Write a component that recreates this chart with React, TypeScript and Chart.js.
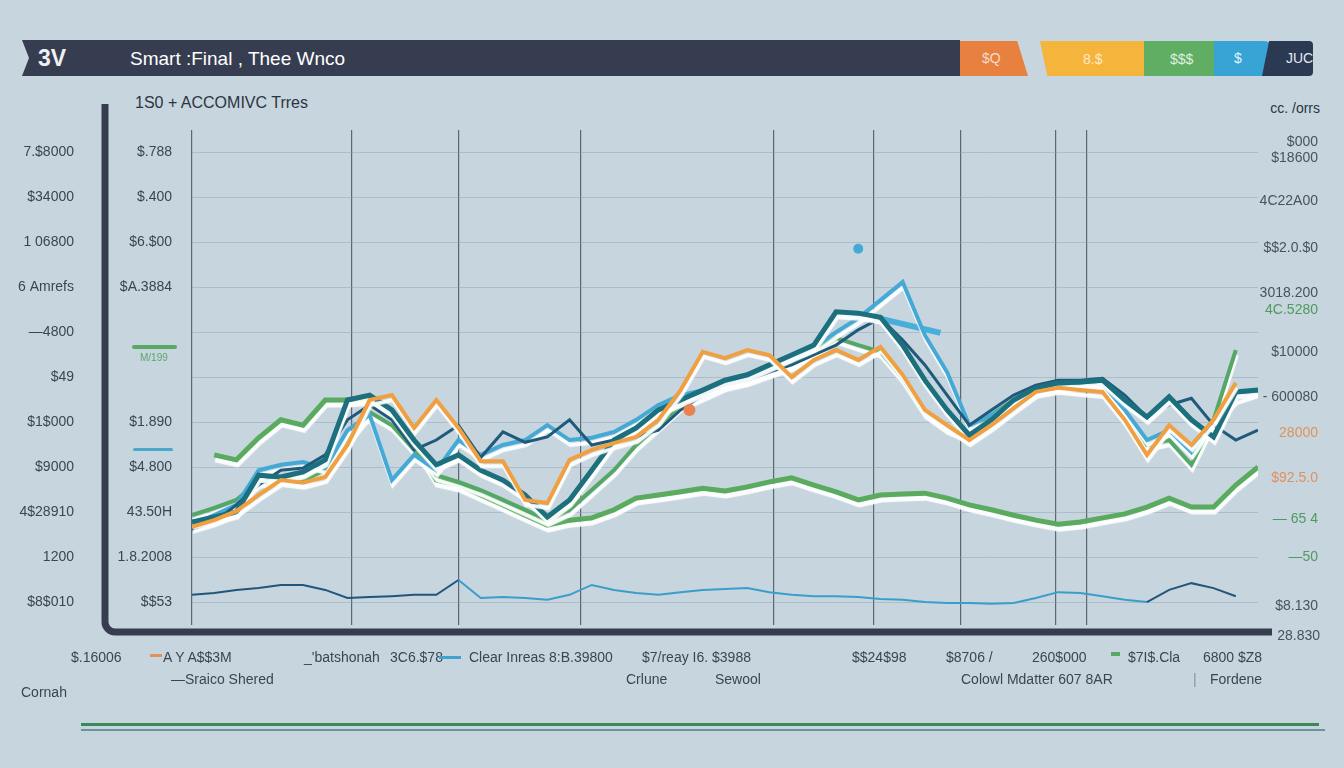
import { useEffect, useRef } from 'react';
import { Chart, registerables } from 'chart.js';

Chart.register(...registerables);

// dark vertical rules, in step units along the x axis
const ruleSteps = [0, 7.2, 12, 17.5, 26.2, 30.7, 34.6, 38.9, 40.3];

// gridline levels shared by the left axes
const levels = [0, 10, 20, 30, 40, 50, 60, 70, 80, 90, 100];

const outerLabels = ['$8$010', '1200', '4$28910', '$9000', '$1$000', '$49', '—4800', '6 Amrefs', '1 06800', '$34000', '7.$8000'];
const innerLabels = ['$$53', '1.8.2008', '43.50H', '$4.800', '$1.890', '', '', '$A.3884', '$6.$00', '$.400', '$.788'];

const rightTicks = [-0.8, 10.1, 18.6, 27.7, 37.7, 45.7, 55.7, 65, 68.8, 78.8, 89.2, 98.8, 102.3];
const rightLabels = ['$8.130', '—50', '— 65 4', '$92.5.0', '28000', '- 600080', '$10000', '4C.5280', '3018.200', '$$2.0.$0', '4C22A00', '$18600', '$000'];
const rightColors = ['#4a525e', '#4f9a62', '#4f9a62', '#e0925a', '#e0925a', '#4a525e', '#4a525e', '#4f9a62', '#4a525e', '#4a525e', '#4a525e', '#4a525e', '#4a525e'];

const orangeSeries = [16.8, 18.3, 20.3, 23.9, 27.2, 26.6, 27.9, 35, 45, 46.1, 38.8, 45, 38.8, 31.4, 31.4, 22.8, 22.1, 31.7, 33.9, 35.4, 36.8, 40.6, 47.2, 55.7, 54.3, 56.1, 55, 50.1, 53.9, 56.1, 53.9, 56.8, 50.6, 42.8, 39.4, 36.1, 39.4, 43.2, 46.8, 47.7, 47.2, 46.8, 40.6, 32.8, 39.4, 35, 40.6, 48.8, null];
const tealSeries = [17.9, 19, 20.1, 28.3, 27.9, 29, 31.7, 45, 46.1, 42.8, 36.1, 30.6, 32.8, 29.4, 27.2, 23.9, 19, 22.8, 29.4, 36.1, 38.8, 42.8, 45, 47.2, 49.4, 50.6, 52.8, 55, 57.2, 64.6, 64.3, 63.4, 57.2, 49.4, 42.8, 37.2, 40.6, 45, 47.7, 48.8, 49, 49.4, 45, 41.2, 45.7, 40.6, 36.8, 46.8, 47.2];
const navySeries = [16.1, 17.9, 21.7, 26.1, 29.4, 29.9, 32.8, 40.6, 43.9, 40.6, 33.9, 36.1, 39.4, 32.2, 37.9, 35.6, 36.8, 40.6, 35, 36.1, 36.8, 38.3, 42.8, 46.1, 48.3, 49.4, 51.2, 52.8, 55, 57.2, 60.6, 63.2, 58.3, 52.8, 46.1, 39.4, 42.8, 46.1, 48.3, 49.4, 49.4, 49.8, 46.1, 41.2, 43.9, 45.4, 39.4, 36.1, 38.3];
const blueSeries = [17.2, 19.4, 21.7, 29.4, 30.6, 31.2, 29.9, 38.3, 41.7, 27.2, 32.8, 29.4, 36.1, 32.8, 35, 36.1, 39.4, 36.1, 36.6, 37.9, 40.6, 43.9, 46.1, 47.2, 49, 49.9, 51.7, 53.4, 56.6, 60.1, 63.2, 67.2, 71.2, 59.4, 51.2, 39.4, 41.7, 44.6, 47.2, 48.1, 48.6, 48.6, 42.8, 36.1, 38.3, 33.4, 40.6, 45.4, 47];
const greenLowSeries = [null, 32.8, 31.7, 36.6, 40.6, 39.4, 45, 45, 45.4, 42.1, 35, 27.2, 26.1, 23.9, 21.7, 19.4, 17.2, 18.3, 18.8, 20.6, 23.2, 23.9, 24.6, 25.4, 24.8, 25.7, 26.8, 27.7, 26.1, 24.6, 22.8, 23.9, 24.1, 24.3, 23.2, 21.7, 20.6, 19.4, 18.3, 17.4, 17.9, 18.8, 19.7, 21.2, 23.2, 21.2, 21.2, 26.1, 30.1];
const greenHighSeries = [19.4, 21, 22.8, 26.8, 27.7, 27.2, 29.4, 36.1, 42.3, 39.4, 33.9, 28.3, 26.8, 25, 22.8, 20.6, 18.3, 20.6, 25, 29.4, 35, 39.4, 43.9, 46.1, 48.3, 49.4, 51.2, 52.8, 55.7, 58.8, 57.2, 55.7, 49.9, 42.3, 38.8, 36.8, 41.7, 45, 47.7, 48.3, 48.8, 48.3, 42.8, 35, 36.1, 30.6, 40.6, 56.1, null];
const baseSeries = [1.7, 2.1, 2.8, 3.2, 3.9, 3.9, 2.8, 1, 1.2, 1.4, 1.7, 1.7, 5, 1, 1.2, 1, 0.6, 1.7, 3.9, 2.8, 2.1, 1.7, 2.3, 2.8, 3, 3.2, 2.3, 1.7, 1.4, 1.4, 1.2, 0.8, 0.6, 0.1, -0.1, -0.1, -0.3, -0.1, 1, 2.3, 2.1, 1.4, 0.6, 0.1, 2.8, 4.3, 3.2, 1.4, null];

const blueAccent = [{ x: 30.7, y: 63.4 }, { x: 33.7, y: 59.9 }];
const blueDot = [{ x: 30, y: 78.6 }];
const orangeDot = [{ x: 22.4, y: 42.8 }];

const steps = orangeSeries.map((_, i) => i);

const FONT = '"Liberation Sans Narrow", "Liberation Sans", Arial, sans-serif';

// white under-glow beneath the main lines
const glowPlugin = {
    id: 'glow',
    beforeDatasetDraw(chart: any, args: any) {
        const ds = chart.data.datasets[args.index];
        if (!ds.glow) return;
        const ctx = chart.ctx;
        ctx.save();
        ctx.shadowColor = 'rgba(255,255,255,0.95)';
        ctx.shadowOffsetX = 1;
        ctx.shadowOffsetY = 5;
        ctx.shadowBlur = 1;
    },
    afterDatasetDraw(chart: any, args: any) {
        const ds = chart.data.datasets[args.index];
        if (ds.glow) chart.ctx.restore();
    }
};

// the dark L-shaped frame around the plot
const framePlugin = {
    id: 'frame',
    afterDraw(chart: any) {
        const { ctx, chartArea } = chart;
        const x = chart.scales.yOuter.right;
        const bottom = chartArea.bottom + 7;
        ctx.save();
        ctx.strokeStyle = '#363d4e';
        ctx.lineWidth = 7;
        ctx.lineCap = 'butt';
        ctx.beginPath();
        ctx.moveTo(x, chartArea.top - 26);
        ctx.lineTo(x, bottom - 10);
        ctx.arcTo(x, bottom, x + 10, bottom, 10);
        ctx.lineTo(chartArea.right + 14, bottom);
        ctx.stroke();
        ctx.restore();
    }
};

const lineBase = {
    pointRadius: 0,
    tension: 0,
    borderJoinStyle: 'miter' as const,
    spanGaps: false,
};

function Text({ x, y, children, size = 14, color = '#3d4552', right = false, weight = 400 }: any) {
    return (
        <div
            style={{
                position: 'absolute',
                top: y,
                left: right ? undefined : x,
                right: right ? 1344 - x : undefined,
                fontSize: size,
                color,
                fontWeight: weight,
                whiteSpace: 'nowrap',
                lineHeight: 1,
                transform: 'translateY(-50%)',
            }}
        >
            {children}
        </div>
    );
}

export default function App() {
    const chartRef = useRef<HTMLCanvasElement>(null);
    const chartInstance = useRef<Chart | null>(null);

    useEffect(() => {
        if (!chartRef.current) return;
        if (chartInstance.current) chartInstance.current.destroy();
        const ctx = chartRef.current.getContext('2d');
        if (!ctx) return;

        chartInstance.current = new Chart(ctx, {
            type: 'line',
            data: {
                labels: steps,
                datasets: [
                    { ...lineBase, label: 'Orange', data: orangeSeries, borderColor: '#f0a040', borderWidth: 4, order: 1, glow: true },
                    { ...lineBase, label: 'Teal', data: tealSeries, borderColor: '#1c6f7c', borderWidth: 5, order: 2, glow: true },
                    { ...lineBase, label: 'Navy', data: navySeries, borderColor: '#1f5a7a', borderWidth: 3, order: 3 },
                    { ...lineBase, label: 'Blue', data: blueSeries, borderColor: '#45a9d6', borderWidth: 4, order: 4, glow: true },
                    { ...lineBase, label: 'Blue accent', data: blueAccent, borderColor: '#4aaedb', borderWidth: 6, order: 4 },
                    { ...lineBase, label: 'Green high', data: greenHighSeries, borderColor: '#55a765', borderWidth: 4, order: 5, glow: true },
                    { ...lineBase, label: 'Green low', data: greenLowSeries, borderColor: '#5aab5e', borderWidth: 5, order: 6, glow: true },
                    {
                        ...lineBase,
                        label: 'Base',
                        data: baseSeries,
                        borderColor: '#22557a',
                        borderWidth: 2,
                        order: 7,
                        segment: {
                            borderColor: (c: any) => (c.p0DataIndex >= 12 && c.p0DataIndex < 43 ? '#3a9ecb' : '#22557a'),
                        },
                    },
                    { label: 'Blue dot', data: blueDot, showLine: false, pointRadius: 5, pointBackgroundColor: '#45a9d6', pointBorderWidth: 0, order: 0 },
                    { label: 'Orange dot', data: orangeDot, showLine: false, pointRadius: 6, pointBackgroundColor: '#ec8150', pointBorderWidth: 0, order: 0 },
                ] as any,
            },
            options: {
                animation: false,
                responsive: true,
                maintainAspectRatio: false,
                events: [],
                layout: { padding: { left: 0, right: 26, top: 130, bottom: 143 } },
                plugins: {
                    legend: { display: false },
                    title: { display: false },
                    tooltip: { enabled: false },
                },
                scales: {
                    x: {
                        type: 'linear',
                        min: 0,
                        max: 48,
                        afterBuildTicks: (scale: any) => {
                            scale.ticks = ruleSteps.map(v => ({ value: v }));
                        },
                        afterFit: (scale: any) => {
                            scale.height = 0;
                        },
                        ticks: { display: false },
                        grid: { color: '#5c6774', lineWidth: 1.2, drawTicks: false },
                        border: { display: false },
                    },
                    yOuter: {
                        type: 'linear',
                        position: 'left',
                        weight: 2,
                        min: -5,
                        max: 105,
                        afterBuildTicks: (scale: any) => {
                            scale.ticks = levels.map(v => ({ value: v }));
                        },
                        afterFit: (scale: any) => {
                            scale.width = 105;
                        },
                        ticks: {
                            autoSkip: false,
                            padding: 31,
                            color: '#3d4552',
                            font: { family: FONT, size: 14 },
                            callback: (_v: any, i: number) => outerLabels[i],
                        },
                        grid: { display: false, drawTicks: false },
                        border: { display: false },
                    },
                    y: {
                        type: 'linear',
                        position: 'left',
                        weight: 1,
                        min: -5,
                        max: 105,
                        afterBuildTicks: (scale: any) => {
                            scale.ticks = levels.map(v => ({ value: v }));
                        },
                        afterFit: (scale: any) => {
                            scale.width = 87;
                        },
                        ticks: {
                            autoSkip: false,
                            padding: 20,
                            color: '#3d4552',
                            font: { family: FONT, size: 14 },
                            callback: (_v: any, i: number) => innerLabels[i],
                        },
                        grid: { color: 'rgba(140,160,176,0.45)', lineWidth: 1, drawTicks: false },
                        border: { display: false },
                    },
                    yRight: {
                        type: 'linear',
                        position: 'right',
                        min: -5,
                        max: 105,
                        afterBuildTicks: (scale: any) => {
                            scale.ticks = rightTicks.map(v => ({ value: v }));
                        },
                        afterFit: (scale: any) => {
                            scale.width = 60;
                        },
                        ticks: {
                            autoSkip: false,
                            crossAlign: 'far',
                            color: (c: any) => rightColors[c.index],
                            font: { family: FONT, size: 14 },
                            callback: (_v: any, i: number) => rightLabels[i],
                        },
                        grid: { display: false, drawTicks: false },
                        border: { display: false },
                    },
                },
            } as any,
            plugins: [glowPlugin, framePlugin],
        });

        return () => {
            if (chartInstance.current) {
                chartInstance.current.destroy();
                chartInstance.current = null;
            }
        };
    }, []);

    const seg = (left: number, width: number, bg: string, clip: string, extra: any = {}) => ({
        position: 'absolute' as const,
        left,
        top: 41,
        width,
        height: 35,
        background: bg,
        clipPath: clip,
        ...extra,
    });

    return (
        <div style={{ position: 'fixed', inset: 0, width: 1344, height: 768, background: '#c6d5de', overflow: 'hidden', fontFamily: FONT }}>
            {/* header ribbon */}
            <div style={seg(1210, 70, '#38a3d5', 'none', { borderRadius: '0 18px 18px 0' })} />
            <div style={seg(1262, 51, '#2b3952', 'polygon(14% 0, 100% 0, 100% 100%, 0 100%)', { borderRadius: '0 4px 4px 0' })} />
            <div style={seg(1138, 76, '#5fae63', 'polygon(0 0, 100% 0, 100% 100%, 6% 100%)')} />
            <div style={seg(1040, 104, '#f5b43c', 'polygon(0 0, 100% 0, 100% 100%, 7% 100%)')} />
            <div style={seg(938, 90, '#e8803f', 'polygon(0 0, 88% 0, 100% 100%, 14% 100%)')} />
            <div style={{ position: 'absolute', left: 22, top: 40, width: 938, height: 36, background: '#363d50', clipPath: 'polygon(0 0, 100% 0, 100% 100%, 0 100%, 7px 50%)' }} />
            <Text x={38} y={58} size={23} color="#eef1f4" weight={700}>3V</Text>
            <Text x={130} y={58} size={19} color="#ffffff" weight={500}>Smart :Final , Thee Wnco</Text>
            <Text x={982} y={58} size={14} color="#f6dcc8">$Q</Text>
            <Text x={1083} y={59} size={14} color="#fbeacb">8.$</Text>
            <Text x={1170} y={59} size={14} color="#dff1df">$$$</Text>
            <Text x={1234} y={58} size={14} color="#e4f3fb">$</Text>
            <Text x={1286} y={58} size={14} color="#e3e8ef">JUC</Text>

            <Text x={135} y={103} size={16} color="#2c3440">1S0 + ACCOMIVC Trres</Text>
            <Text x={1320} y={108} size={14} color="#2c3440" right>cc. /orrs</Text>

            <div style={{ position: 'absolute', left: 0, top: 0, width: 1344, height: 768 }}>
                <canvas ref={chartRef} />
            </div>

            {/* small series markers beside the inner axis */}
            <div style={{ position: 'absolute', left: 132, top: 345, width: 45, height: 4, background: '#5aa866', borderRadius: 2 }} />
            <Text x={140} y={358} size={10} color="#5aa866">M/199</Text>
            <div style={{ position: 'absolute', left: 133, top: 448, width: 40, height: 3, background: '#4aa8cc', borderRadius: 2 }} />
            <Text x={1320} y={635} size={14} color="#4a525e" right>28.830</Text>

            {/* bottom label rows */}
            <Text x={71} y={657}>$.16006</Text>
            <div style={{ position: 'absolute', left: 150, top: 654, width: 12, height: 3, background: '#e0925a' }} />
            <Text x={163} y={657}>A Y A$$3M</Text>
            <Text x={304} y={657}>_'batshonah</Text>
            <Text x={390} y={657}>3C6.$78</Text>
            <div style={{ position: 'absolute', left: 439, top: 656, width: 22, height: 3, background: '#3fa2cf' }} />
            <Text x={469} y={657}>Clear Inreas</Text>
            <Text x={549} y={657}>8:B.39800</Text>
            <Text x={642} y={657}>$7/reay I6. $3988</Text>
            <Text x={852} y={657}>$$24$98</Text>
            <Text x={946} y={657}>$8706 /</Text>
            <Text x={1032} y={657}>260$000</Text>
            <div style={{ position: 'absolute', left: 1111, top: 652, width: 9, height: 4, background: '#5aa866' }} />
            <Text x={1128} y={657}>$7I$.Cla</Text>
            <Text x={1203} y={657}>6800 $Z8</Text>

            <Text x={171} y={679}>—Sraico Shered</Text>
            <Text x={626} y={679}>Crlune</Text>
            <Text x={715} y={679}>Sewool</Text>
            <Text x={961} y={679}>Colowl Mdatter 607 8AR</Text>
            <Text x={1193} y={679} color="#8a96a0">|</Text>
            <Text x={1210} y={679}>Fordene</Text>
            <Text x={21} y={692}>Cornah</Text>

            {/* bottom double rule */}
            <div style={{ position: 'absolute', left: 81, top: 723, width: 1238, height: 3, background: '#3a8a5a' }} />
            <div style={{ position: 'absolute', left: 81, top: 729, width: 1244, height: 2, background: '#6a9497' }} />
        </div>
    );
}
